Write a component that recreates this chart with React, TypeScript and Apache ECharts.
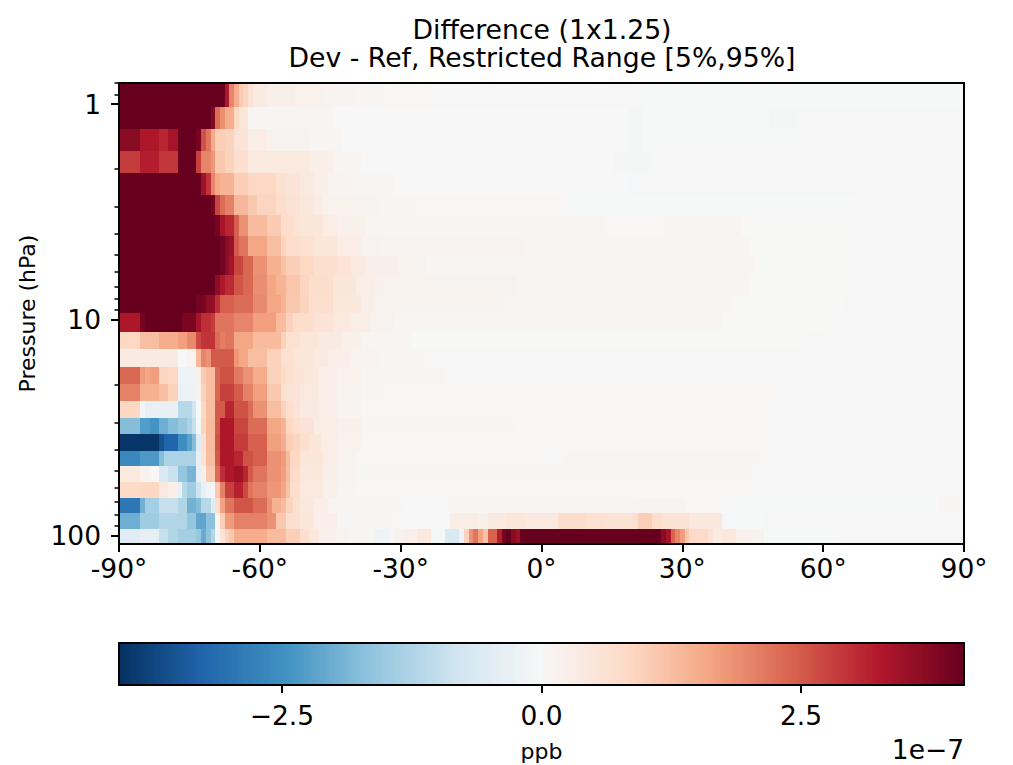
import React, { useEffect, useRef } from "react";
import * as echarts from "echarts";

// Every value is in units of 1e-7 ppb. Runs are [end latitude, value].
const S = 5; // beyond the colour range
const lonStart = -90;
const vmax = 4.07;
const pressureEdges = [0.798, 1.033, 1.31, 1.656, 2.095, 2.63, 3.28, 4.1, 5.08, 6.22, 7.7, 9.33, 11.43, 13.7, 16.6, 19.9, 23.9, 28.6, 33.9, 40.7, 47.7, 56.6, 67.2, 78.8, 93.5, 109.7];
const r0 = [[-67.5,S],[-66.5,3.3],[-65.5,2.0],[-64.5,1.5],[-63.5,1.05],[-62.5,.9],[-61.5,.6],[-58.5,.35],[-52.5,.22],[-46.5,.18],[-39.5,.12],[-33.5,.08],[-22.5,.03],[20.5,.02],[90,-.02]];
const r1 = [[-70.5,S],[-69.5,3.8],[-68.5,2.3],[-67.5,1.9],[-65.5,1.5],[-64.5,.85],[-62.5,.5],[-44.5,.05],[18.5,-.01],[21.5,-.06],[48.5,-.02],[54.5,-.06],[90,-.03]];
const r2 = [[-85.5,3.7],[-81.5,3.3],[-79.5,3.1],[-77.5,3.4],[-73.5,S],[-72.5,3.9],[-71.5,2.6],[-70.5,2.2],[-69.5,1.55],[-67.5,1.0],[-65.5,.95],[-62.5,.55],[-58.5,.3],[-49.5,.15],[-42.5,.1],[18.5,0],[21.5,-.06],[51.5,-.02],[53.5,-.05],[90,-.03]];
const r3 = [[-85.5,2.85],[-81.5,3.2],[-77.5,2.9],[-73.5,S],[-72.5,2.8],[-70.5,2.0],[-69.5,1.8],[-67.5,1.1],[-65.5,.95],[-62.5,.7],[-49.5,.4],[-44.5,.25],[-38.5,.1],[15.5,0],[23.5,-.06],[90,-.03]];
const r4 = [[-72.5,S],[-71.5,3.45],[-70.5,2.95],[-69.5,2.0],[-68.5,1.55],[-65.5,1.4],[-62.5,1.0],[-56.5,.85],[-54.5,.65],[-51.5,.55],[-48.5,.4],[-45.5,.25],[-40.5,.12],[-31.5,.06],[18.5,0],[21.5,-.05],[90,-.03]];
const r5 = [[-70.5,S],[-69.5,3.9],[-68.5,2.75],[-67.5,2.3],[-65.5,2.05],[-62.5,1.35],[-60.5,1.1],[-56.5,.9],[-54.5,.75],[-51.5,.6],[-48.5,.45],[-46.5,.3],[-40.5,.18],[-34.5,.12],[-26.5,.06],[5.5,.03],[67,-.02],[90,-.03]];
const r6 = [[-69.5,S],[-68.5,3.9],[-67.5,3.4],[-65.5,3.1],[-64.5,2.45],[-62.5,1.85],[-58.5,1.3],[-55.5,1.05],[-53,.75],[-51.5,.6],[-46.5,.5],[-43.5,.3],[-37.5,.2],[-15.5,.1],[13.5,.1],[26.5,.03],[42.5,.09],[66.5,.01],[90,-.03]];
const r7 = [[-68.5,S],[-67.5,3.95],[-66.5,3.7],[-65.5,3.5],[-64.5,2.5],[-62.5,2.2],[-58.5,1.6],[-55.5,1.25],[-54.5,.9],[-51.5,.75],[-48.5,.65],[-43.5,.5],[-38.5,.3],[-34.5,.15],[-3.5,.12],[44.5,.1],[66.5,.01],[90,-.03]];
const r8 = [[-68.5,S],[-67.5,3.95],[-66.5,3.65],[-65.5,3.4],[-63.5,2.75],[-61.5,2.35],[-58.5,1.85],[-55.5,1.45],[-54.5,1.2],[-51.5,1.0],[-48.5,.85],[-43.5,.7],[-40.5,.55],[-37.5,.4],[-30.5,.22],[-24.5,.14],[45.5,.1],[66.5,.01],[90,-.03]];
const r9 = [[-69.5,S],[-68.5,3.65],[-67.5,3.3],[-65.5,3.05],[-63.5,2.55],[-61.5,2.35],[-58.5,1.9],[-56.5,1.6],[-54.5,1.4],[-51.5,1.15],[-49.5,.9],[-44.5,.75],[-39.5,.5],[-35.5,.3],[-33.5,.2],[-5.5,.14],[44.5,.1],[65.5,.01],[90,-.03]];
const r10 = [[-73.5,S],[-72.5,3.95],[-71.5,3.85],[-69.5,3.6],[-68.5,3.0],[-65.5,2.45],[-61.5,2.3],[-58.5,1.95],[-55.5,1.6],[-54.5,1.4],[-51.5,1.1],[-49.5,.9],[-44.5,.7],[-38.5,.45],[-35.5,.25],[-8.5,.13],[40.5,.08],[64.5,.01],[90,-.03]];
const r11 = [[-85.5,3.3],[-84.5,3.9],[-76.5,S],[-73.5,3.85],[-72.5,3.4],[-70.5,3.0],[-69.5,2.85],[-65.5,2.2],[-61.5,2.0],[-56.5,1.7],[-54.5,1.3],[-53,.95],[-48.5,.75],[-44.5,.55],[-40.5,.4],[-36.5,.28],[-31.5,.15],[-15.5,.1],[38.5,.08],[61.5,.01],[90,-.03]];
const r12 = [[-85.5,.85],[-81.5,1.25],[-77.5,1.5],[-75.5,1.7],[-73.5,1.95],[-72.5,2.7],[-69.5,2.95],[-68.5,2.3],[-67.5,2.1],[-65.5,2.2],[-61.5,1.6],[-55.5,1.3],[-54.5,.95],[-51.5,.65],[-47.5,.5],[-42.5,.35],[-38.5,.2],[-32.5,.1],[-27.5,.08],[56.5,.01],[90,-.03]];
const r13 = [[-77.5,.35],[-75.5,0],[-73.5,.12],[-72.5,1.35],[-71.5,2.0],[-70.5,1.85],[-65.5,2.5],[-64.5,1.8],[-62.5,1.6],[-58.5,1.25],[-55.5,.95],[-53,.65],[-48.5,.5],[-45.5,.38],[-40.5,.25],[-34.5,.12],[-24.5,.06],[54.5,.02],[90,-.03]];
const r14 = [[-85.5,2.35],[-84.5,1.75],[-83.5,1.6],[-81.5,1.7],[-79.5,.9],[-77.5,.85],[-73.5,-.2],[-72.5,.2],[-71.5,1.05],[-69.5,1.25],[-68.5,2.35],[-65.5,2.6],[-63.5,2.15],[-61.5,1.85],[-58.5,1.5],[-55.5,.95],[-54.5,.8],[-53,.65],[-50.5,.55],[-47.5,.45],[-43.5,.25],[-38.5,.18],[-20.5,.08],[53.5,.02],[90,-.03]];
const r15 = [[-85.5,2.05],[-81.5,1.45],[-79.5,1.25],[-77.5,.95],[-73.5,-.25],[-72.5,.15],[-71.5,.95],[-69.5,1.25],[-68.5,2.35],[-65.5,2.8],[-63.5,2.5],[-61.5,2.05],[-58.5,1.7],[-55.5,1.1],[-54.5,.7],[-51.5,.55],[-47.5,.4],[-43.5,.25],[-38.5,.15],[-33.5,.09],[50.5,.07],[90,-.03]];
const r16 = [[-85.5,.85],[-84.5,-.1],[-77.5,-.33],[-74.5,-1.15],[-73.5,-.8],[-72.5,0],[-71.5,.85],[-69.5,1.25],[-67.5,2.5],[-65.5,3.1],[-62.5,2.6],[-61.5,2.3],[-58.5,1.85],[-55.5,1.25],[-54.5,.95],[-53,.75],[-51.5,.55],[-47.5,.35],[-43.5,.22],[-38.5,.12],[-5.5,.07],[49.5,.03],[90,-.03]];
const r17 = [[-85.5,-1.75],[-83.5,-2.3],[-81.5,-2.45],[-79.5,-2.0],[-77.5,-1.75],[-75.5,-1.55],[-74.5,-1.3],[-73.5,-.95],[-72.5,-.05],[-71.5,.9],[-69.5,1.3],[-68.5,2.5],[-65.5,3.3],[-62.5,2.75],[-58.5,2.3],[-55.5,1.6],[-54.5,1.4],[-53,.85],[-51.5,.7],[-48.5,.55],[-43.5,.3],[-38.5,.2],[-5.5,.08],[48.5,.03],[90,-.03]];
const r18 = [[-81.5,-4.0],[-80.5,-3.55],[-77.5,-3.25],[-75.5,-2.55],[-74.5,-2.2],[-73.5,-1.75],[-72.5,-.5],[-71.5,.65],[-69.5,1.3],[-68.5,2.6],[-65.5,3.3],[-62.5,2.85],[-58.5,2.45],[-55.5,1.7],[-54.5,1.5],[-53,1.0],[-51.5,.9],[-49.5,.7],[-47,.5],[-43.5,.28],[-38.5,.18],[-8.5,.07],[47.5,.03],[90,-.03]];
const r19 = [[-85.5,-2.65],[-81.5,-2.35],[-80.5,-1.75],[-73.5,-1.3],[-72.5,-.3],[-71.5,.6],[-69.5,1.25],[-68.5,2.5],[-65.5,3.3],[-63.5,3.1],[-61.5,2.6],[-58.5,2.45],[-55.5,1.85],[-54.5,1.75],[-53.5,1.3],[-51.5,.85],[-46.5,.5],[-43.5,.3],[-39.5,.15],[0.5,.07],[4.5,.02],[46.5,.05],[90,-.03]];
const r20 = [[-85.5,.4],[-83.5,.15],[-81.5,0],[-79.5,-.6],[-77.5,-.9],[-75.5,-1.6],[-73.5,-1.9],[-72.5,-.3],[-71.5,.25],[-69.5,1.1],[-68.5,2.3],[-67.5,3.0],[-65.5,3.3],[-63.5,3.45],[-62.5,3.1],[-61.5,2.5],[-58.5,2.2],[-55.5,1.85],[-54.5,1.7],[-53.5,1.3],[-51.5,.8],[-46.5,.45],[-43.5,.25],[-39.5,.12],[44.5,.05],[90,-.03]];
const r21 = [[-85.5,.8],[-81.5,.85],[-79.5,.4],[-77.5,.25],[-76.5,-.3],[-75.5,-1.15],[-73.5,-1.45],[-72.5,-.85],[-71.5,-.35],[-70.5,-.15],[-69.5,-.05],[-68.5,1.1],[-67.5,2.05],[-65.5,2.8],[-63.5,3.15],[-62.5,2.7],[-61.5,2.2],[-58.5,2.05],[-55.5,1.8],[-54.5,1.6],[-53.5,1.2],[-51.5,.75],[-46.5,.4],[-43.5,.2],[-39.5,.1],[-20.5,.03],[43.5,.04],[90,-.03]];
const r22 = [[-85.5,-2.95],[-84.5,-1.95],[-81.5,-1.4],[-77.5,-.95],[-75.5,-1.2],[-73.5,-1.95],[-72.5,-1.75],[-70.5,-1.15],[-69.5,-.5],[-68.5,.75],[-67.5,1.65],[-65.5,2.2],[-61.5,2.55],[-58.5,2.3],[-57.5,1.85],[-55.5,1.45],[-54.5,1.3],[-53,.9],[-51.5,.65],[-48.5,.45],[-45.5,.25],[-41.5,.1],[-29.5,.05],[-19.5,.02],[20.5,.1],[30.5,.12],[38.5,.03],[41.5,0],[84.5,-.02],[90,.05]];
const r23 = [[-85.5,-2.0],[-81.5,-1.45],[-75.5,-1.2],[-73.5,-1.6],[-71.5,-2.15],[-69.5,-1.7],[-68.5,.1],[-67.5,1.0],[-65.5,1.75],[-58.5,2.05],[-56.5,1.85],[-54.5,1.1],[-51.5,.7],[-48.5,.5],[-43.5,.25],[-31.5,.05],[-23.5,-.03],[-19.5,0],[-13.5,.28],[-11.5,.2],[-7.5,.4],[-3.5,.5],[3.5,.4],[9.5,.75],[13.5,.65],[19.5,.6],[20.5,.7],[23.5,1.0],[25.5,.75],[31.5,.6],[38.5,.45],[43.5,-.05],[47.5,-.02],[90,-.03]];
const r24 = [[-85.5,-.5],[-81.5,-.35],[-79.5,-.95],[-77.5,-1.2],[-73.5,-1.4],[-72.5,-1.55],[-71.5,-2.05],[-70.5,-1.65],[-69.5,-1.2],[-68.5,-.05],[-67.5,.55],[-66.5,.95],[-65.5,1.1],[-58.5,1.5],[-54.5,1.3],[-51.5,1.0],[-49.5,.7],[-47.5,.45],[-44.5,.2],[-41.5,.15],[-35.5,.05],[-32.5,-.2],[-31.5,-.02],[-29.5,.15],[-26.5,.22],[-23.5,.42],[-20.5,-.05],[-17.5,-.65],[-16.5,-.2],[-15.5,.95],[-14.5,1.85],[-13.5,2.2],[-12.5,1.65],[-11.5,1.2],[-9.5,2.4],[-8.5,3.2],[-7.5,3.9],[-6.5,S],[-5.5,3.7],[-4.5,3.5],[25.5,S],[26.5,3.7],[27.5,3.4],[28.5,2.4],[29.5,2.0],[30.5,1.7],[31.5,1.1],[35.5,.8],[36.5,.6],[38.5,.35],[41.5,.45],[43.5,.2],[47.5,.15],[63.5,-.02],[90,.02]];
const rows = [r0,r1,r2,r3,r4,r5,r6,r7,r8,r9,r10,r11,r12,r13,r14,r15,r16,r17,r18,r19,r20,r21,r22,r23,r24];

const xTicks = [-90, -60, -30, 0, 30, 60, 90];
const yMajor = [1, 10, 100];
const yMinor = [0.8, 0.9, 2, 3, 4, 5, 6, 7, 8, 9, 20, 30, 40, 50, 60, 70, 80, 90];
const barTicks = [-2.5, 0, 2.5];
const rdBuR = ["#053061","#2166ac","#4393c3","#92c5de","#d1e5f0","#f7f7f7","#fddbc7","#f4a582","#d6604d","#b2182b","#67001f"];

const FONT = "DejaVu Sans";
const colorOf = (v: number) => {
  const t = Math.max(0, Math.min(1, (v + vmax) / (2 * vmax)));
  return echarts.color.lerp(t, rdBuR) as string;
};
const rectItem = (api: any) => {
  const a = api.coord([api.value(0), api.value(2)]);
  const b = api.coord([api.value(1), api.value(3)]);
  const x0 = Math.round(a[0]), x1 = Math.round(b[0]);
  const y0 = Math.round(a[1]), y1 = Math.round(b[1]);
  return {
    type: "rect",
    shape: { x: x0, y: y0, width: x1 - x0, height: y1 - y0 },
    style: { fill: colorOf(api.value(4)), stroke: null },
  };
};

export default function App() {
  const ref = useRef<HTMLDivElement>(null);
  useEffect(() => {
    document.body.style.margin = "0";
    const chart = echarts.init(ref.current!, undefined, { renderer: "svg" });
    const cells: number[][] = [];
    rows.forEach((row, i) => {
      let from = lonStart;
      row.forEach(([to, v]) => {
        cells.push([from, to, pressureEdges[i], pressureEdges[i + 1], v]);
        from = to;
      });
    });
    const bar: number[][] = [];
    const steps = 256;
    for (let i = 0; i < steps; i++) {
      const a = -vmax + (2 * vmax * i) / steps;
      const b = -vmax + (2 * vmax * (i + 1)) / steps;
      bar.push([a, b, 0, 1, (a + b) / 2]);
    }
    const line = { lineStyle: { color: "#000", width: 2 } };
    const frame = { show: true, onZero: false, ...line };
    const logBase = { type: "log", logBase: 10, min: 0.798, max: 109.7, inverse: true, gridIndex: 0, z: 5, splitLine: { show: false }, minorTick: { show: false }, minorSplitLine: { show: false } };
    chart.setOption({
      animation: false,
      backgroundColor: "#fff",
      textStyle: { fontFamily: FONT },
      title: {
        text: "Difference (1x1.25)\nDev - Ref, Restricted Range [5%,95%]",
        left: 537, top: 10, textAlign: "center",
        textStyle: { fontFamily: FONT, fontWeight: "normal", fontSize: 26.7, lineHeight: 28, color: "#000" },
      },
      grid: [
        { left: 119, top: 83, width: 845, height: 461 },
        { left: 119, top: 643, width: 845, height: 42 },
      ],
      xAxis: [
        { type: "value", gridIndex: 0, min: -90, max: 90, interval: 30, z: 5, position: "bottom",
          splitLine: { show: false }, axisLine: frame,
          axisTick: { show: true, length: 8, ...line },
          axisLabel: { fontFamily: FONT, fontSize: 26.5, color: "#000", margin: 11, formatter: (v: number) => `${v}°`, customValues: xTicks } },
        { type: "value", gridIndex: 0, min: -90, max: 90, interval: 30, z: 5, position: "top",
          splitLine: { show: false }, axisLine: frame, axisTick: { show: false }, axisLabel: { show: false } },
        { type: "value", gridIndex: 1, min: -vmax, max: vmax, z: 5, position: "bottom",
          name: "ppb", nameLocation: "middle", nameGap: 55,
          nameTextStyle: { fontFamily: FONT, fontSize: 22, color: "#000" },
          splitLine: { show: false }, axisLine: frame,
          axisTick: { show: true, length: 8, customValues: barTicks, ...line },
          axisLabel: { fontFamily: FONT, fontSize: 26.5, color: "#000", margin: 17, customValues: barTicks,
            formatter: (v: number) => (v < 0 ? "\u2212" : "") + Math.abs(v).toFixed(1) } },
        { type: "value", gridIndex: 1, min: -vmax, max: vmax, z: 5, position: "top",
          splitLine: { show: false }, axisLine: frame, axisTick: { show: false }, axisLabel: { show: false } },
      ],
      yAxis: [
        { ...logBase, position: "left", name: "Pressure (hPa)", nameLocation: "middle", nameGap: 81,
          nameTextStyle: { fontFamily: FONT, fontSize: 22, color: "#000" },
          axisLine: frame,
          axisTick: { show: true, length: 8, customValues: yMajor, ...line },
          axisLabel: { fontFamily: FONT, fontSize: 26.5, color: "#000", margin: 18, customValues: yMajor, formatter: (v: number) => String(Math.round(v)) } },
        { ...logBase, position: "left",
          axisLine: { show: false, onZero: false },
          axisTick: { show: true, length: 4.5, customValues: yMinor, lineStyle: { color: "#000", width: 1.5 } },
          axisLabel: { show: false } },
        { ...logBase, position: "right",
          axisLine: frame, axisTick: { show: false }, axisLabel: { show: false } },
        { type: "value", gridIndex: 1, min: 0, max: 1, z: 5, position: "left",
          splitLine: { show: false }, axisLine: frame, axisTick: { show: false }, axisLabel: { show: false } },
        { type: "value", gridIndex: 1, min: 0, max: 1, z: 5, position: "right",
          splitLine: { show: false }, axisLine: frame, axisTick: { show: false }, axisLabel: { show: false } },
      ],
      series: [
        { type: "custom", xAxisIndex: 0, yAxisIndex: 0, clip: false, silent: true, z: 1, renderItem: (_: any, api: any) => rectItem(api),
          encode: { x: [0, 1], y: [2, 3] }, data: cells },
        { type: "custom", xAxisIndex: 2, yAxisIndex: 3, clip: false, silent: true, z: 1, renderItem: (_: any, api: any) => rectItem(api),
          encode: { x: [0, 1], y: [2, 3] }, data: bar },
      ],
      graphic: [
        { type: "text", x: 964, y: 749, z: 10, style: { text: "1e\u22127", fontFamily: FONT, fontSize: 26.5, fill: "#000", align: "right", verticalAlign: "middle" } },
      ],
    });
    return () => chart.dispose();
  }, []);
  return <div ref={ref} style={{ position: "absolute", left: 0, top: 0, width: 1013, height: 765 }} />;
}
